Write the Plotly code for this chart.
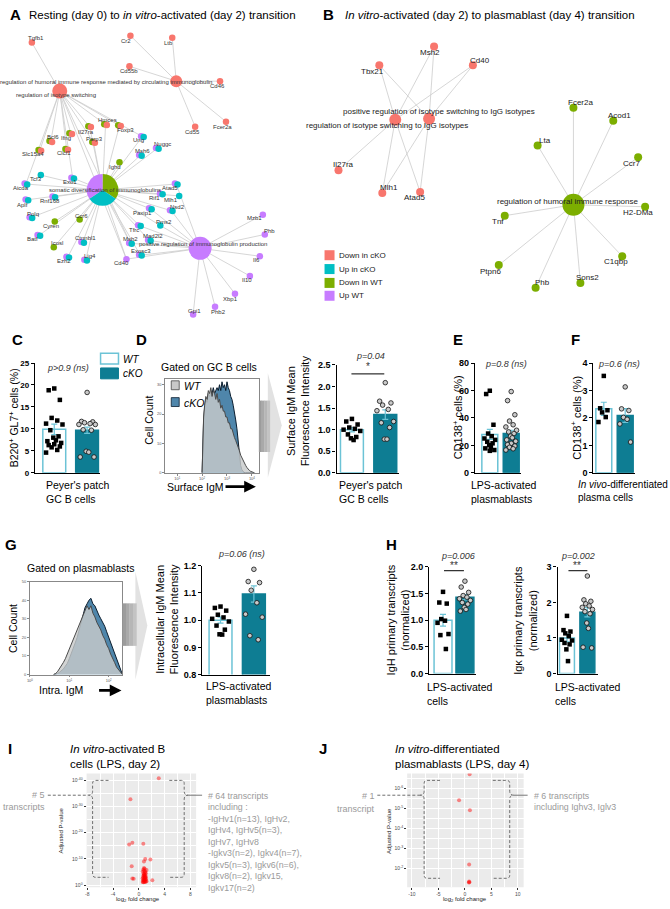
import plotly.graph_objects as go

W, H = 670, 909
FONT = "Liberation Sans, Arial, Helvetica, sans-serif"
RED, CYAN, GREEN, PURPLE = "#F8766D", "#00BFC4", "#7CAE00", "#C77CFF"
COL = {"R": RED, "C": CYAN, "G": GREEN, "P": PURPLE}
TEAL = "#0E7D93"
LIGHT = "#6CC3D6"
EDGE = "#cccccc"
GREYTXT = "#9a9a9a"

# ---------------- Panel A network (layout coordinates) ----------------
a_genes = ["Tgfb1", "Cr2", "Ltb", "Cd55b", "Cd46", "Cd55", "Fcer2a", "Hmces", "Il27ra", "Foxp3",
           "Ifng", "Parp3", "Bcl6", "Clcf1", "Slc15a4", "Ung", "Nuggc", "Msh6", "Ighd", "Tcf3",
           "Exo1", "Aicda", "Atad5", "Rif1", "Mlh1", "Aplf", "Rnf168", "Nsd2", "Paxip1", "Polq",
           "Cyren", "Ccr6", "Pms2", "Tfrc", "Batf", "Ctnnbl1", "Msh2", "Mad2l2", "Icosl", "Exosc3",
           "Ezh2", "Lig4", "Cd40", "Mzb1", "Phb", "Il6", "Il10", "Xbp1", "Phb2", "Gpi1"]
a_gene_x = [29, 128, 170, 127, 218, 193, 224, 103, 87, 117,
            68, 91, 48, 64, 37, 140, 155, 138, 117, 38,
            70, 23, 174, 159, 177, 24, 51, 169, 148, 28,
            52, 77, 158, 137, 36, 80, 128, 147, 51, 138,
            65, 83, 124, 261, 263, 258, 248, 233, 213, 191]
a_gene_y = [38, 31, 33, 62, 77, 123, 118, 121, 123, 122,
            130, 139, 138, 146, 147, 133, 145, 152, 159, 172,
            175, 181, 181, 191, 193, 197, 194, 208, 206, 215,
            219, 217, 223, 223, 233, 240, 241, 238, 245, 253,
            255, 258, 257, 212, 232, 254, 274, 292, 305, 313]
a_gene_groups = ["R", "R", "R", "R", "R", "R", "R", "GR", "GR", "GR",
                 "GR", "GR", "GR", "GR", "GR", "PC", "PC", "PC", "G", "C",
                 "PC", "PC", "PC", "PC", "C", "PC", "PC", "PC", "PC", "PC",
                 "G", "G", "C", "PC", "PC", "PC", "PC", "PC", "G", "PC",
                 "PC", "PC", "P", "P", "P", "P", "P", "P", "P", "P"]
a_label_x = [33, 124, 166, 127, 215, 190, 220, 105, 83, 123,
             63, 92, 50, 61, 30, 136, 160, 140, 113, 33,
             67, 18, 168, 152, 169, 20, 47, 175, 140, 30,
             48, 79, 162, 132, 30, 83, 128, 151, 54, 139,
             61, 87, 119, 253, 268, 255, 245, 229, 216, 192]
a_label_y = [33, 36, 38, 67, 82, 128, 123, 116, 128, 126,
             134, 135, 133, 150, 151, 137, 141, 148, 164, 176,
             179, 185, 185, 195, 197, 202, 198, 204, 210, 211,
             223, 213, 219, 227, 237, 236, 237, 234, 241, 249,
             259, 254, 261, 215, 229, 258, 278, 297, 310, 309]

a_hub_names = ["regulation of humoral immune response mediated by circulating immunoglobulin",
               "regulation of isotype switching",
               "somatic diversification of immunoglobulins",
               "positive regulation of immunoglobulin production"]
a_hub_x = [174, 57, 100, 198]
a_hub_y = [77, 87, 187, 246]
a_hub_size = [12, 15, 32, 23]
a_hub_label_x = [103, 53, 102, 201]
a_hub_label_y = [78, 91, 187, 242]
a_som_counts = [12, 11, 12]  # Down in WT, Up in cKO, Up WT

a_edges = [
    ["Cr2", "Ltb", "Cd55b", "Cd46", "Cd55", "Fcer2a"],
    ["Tgfb1", "Slc15a4", "Bcl6", "Ifng", "Clcf1", "Il27ra", "Parp3", "Hmces", "Foxp3",
     "Aicda", "Exo1", "Msh2", "Cd40", "Ung"],
    ["Hmces", "Parp3", "Il27ra", "Foxp3", "Ighd", "Ung", "Msh6", "Nuggc", "Tcf3", "Exo1",
     "Aicda", "Aplf", "Rnf168", "Polq", "Cyren", "Batf", "Icosl", "Ezh2", "Ctnnbl1", "Lig4",
     "Ccr6", "Cd40", "Exosc3", "Msh2", "Mad2l2", "Tfrc", "Pms2", "Paxip1", "Nsd2", "Rif1",
     "Mlh1", "Atad5"],
    ["Mzb1", "Phb", "Il6", "Il10", "Xbp1", "Phb2", "Gpi1", "Cd40", "Exosc3", "Mad2l2",
     "Msh2", "Tfrc", "Pms2", "Paxip1", "Nsd2", "Atad5"],
]

# ---------------- Panel B network ----------------
b_red_genes = ["Msh2", "Tbx21", "Cd40", "Il27ra", "Mlh1", "Atad5"]
b_red_x = [433, 378, 472, 337, 381, 419]
b_red_y = [42, 61, 61, 167, 190, 189]
b_red_lx = [429, 371, 479, 342, 388, 413]
b_red_ly = [48, 67, 56, 161, 185, 195]
b_red_hubs = ["positive regulation of isotype switching to IgG isotypes",
              "regulation of isotype switching to IgG isotypes"]
b_red_hub_x = [428, 394]
b_red_hub_y = [115, 116]
b_red_hub_lx = [438, 386]
b_red_hub_ly = [108, 122]

b_green_genes = ["Fcer2a", "Acod1", "Lta", "Ccr7", "H2-DMa", "Tnf", "C1qbp", "Ptpn6", "Sons2", "Phb"]
b_green_x = [573, 613, 537, 638, 645, 504, 622, 498, 580, 535]
b_green_y = [104, 117, 142, 154, 204, 213, 254, 263, 281, 286]
b_green_lx = [580, 619, 544, 631, 638, 497, 616, 490, 587, 542]
b_green_ly = [99, 112, 137, 160, 210, 219, 259, 269, 276, 281]
b_green_hub = "regulation of humoral immune response"
b_green_hub_xy = (573, 202)

legend_labels = ["Down in cKO", "Up in cKO", "Down in WT", "Up WT"]

# ---------------- Bar chart data ----------------
c_means, c_sems = [9.9, 9.7], [1.2, 0.7]
c_wt = [19.2, 18.8, 16.6, 12.5, 11.9, 11.2, 11.0, 9.7, 8.3, 8.0, 7.4, 7.2, 6.8, 6.5, 6.3, 6.0, 5.8, 5.2, 4.6]
c_ko = [18.3, 11.7, 11.6, 11.4, 11.2, 11.0, 11.0, 9.8, 9.7, 4.9, 4.7, 3.6, 3.6]

d_means, d_sems = [1.0, 1.35], [0.05, 0.11]
d_wt = [1.25, 1.19, 1.12, 1.05, 1.02, 1.0, 0.97, 0.89, 0.83, 0.80, 0.76]
d_ko = [2.09, 1.66, 1.62, 1.57, 1.47, 1.44, 1.19, 1.16, 1.05, 0.78, 0.78]

e_means, e_sems = [28.0, 28.6], [3.7, 2.4]
e_wt = [59.8, 57.4, 35.0, 28.6, 26.7, 25.0, 24.0, 22.6, 21.5, 20.2, 19.0, 17.8, 16.6, 16.0]
e_ko = [59.2, 52.6, 42.3, 37.7, 35.0, 33.4, 31.0, 29.8, 28.6, 26.7, 25.5, 24.0, 23.0, 21.5,
        20.5, 19.5, 18.6, 17.5, 16.6]

f_means, f_sems = [2.33, 2.09], [0.24, 0.25]
f_wt = [3.53, 2.35, 2.28, 2.20, 2.03, 1.85]
f_ko = [3.13, 2.33, 2.27, 2.02, 1.95, 1.78, 1.12]

g_means, g_sems = [1.0, 1.096], [0.011, 0.03]
g_wt = [1.05, 1.045, 1.035, 1.02, 1.01, 1.005, 0.995, 0.98, 0.965, 0.948, 0.947]
g_ko = [1.187, 1.142, 1.138, 1.11, 1.064, 1.022, 1.011, 0.943, 0.928]

h1_means, h1_sems = [1.0, 1.43], [0.11, 0.05]
h1_wt = [1.53, 1.33, 1.31, 1.02, 0.99, 0.95, 0.74, 0.72, 0.46]
h1_ko = [1.73, 1.62, 1.52, 1.46, 1.43, 1.40, 1.37, 1.33, 1.30, 1.24, 1.20, 1.17]

h2_means, h2_sems = [1.0, 1.72], [0.11, 0.13]
h2_wt = [1.62, 1.22, 1.18, 1.13, 1.05, 0.95, 0.93, 0.86, 0.82, 0.68, 0.35]
h2_ko = [2.74, 2.07, 2.03, 1.96, 1.90, 1.86, 1.80, 1.74, 1.68, 1.42, 1.27, 0.74, 0.72]

# ---------------- Flow histograms (log10 fluorescence, cell count) ----------------
d_logx = [2.00, 2.03, 2.06, 2.10, 2.15, 2.20, 2.25, 2.30, 2.35, 2.40, 2.45, 2.50, 2.55, 2.60, 2.65,
          2.70, 2.75, 2.80, 2.85, 2.90, 2.95, 3.00, 3.05, 3.10, 3.15, 3.20, 3.25, 3.30, 3.35, 3.40,
          3.45, 3.50, 3.55, 3.60, 3.65, 3.70, 3.75, 3.80, 3.85, 3.90, 3.95, 4.00, 4.05, 4.10]
d_wt_count = [0, 12, 19, 23, 26, 25, 28, 27, 29, 26, 28, 27, 25, 27, 24,
              25, 22, 23, 21, 21, 19, 19, 17, 17, 15, 15, 13, 12, 11, 10,
              8.5, 7.5, 6, 5, 4, 3.2, 2.5, 1.8, 1.2, 0.8, 0.5, 0.3, 0.1, 0]
d_ko_count = [0, 11, 18, 22, 25, 24, 27, 26, 28, 27, 29, 27, 28, 29, 28,
              30, 28, 31, 29, 30, 28, 31, 29, 28, 26, 25, 23, 21, 18, 15,
              11, 6, 2.5, 1, 0.3, 0, 0, 0, 0, 0, 0, 0, 0, 0]
g_logx = [0.60, 0.65, 0.70, 0.75, 0.80, 0.85, 0.90, 0.95, 1.00, 1.05, 1.10, 1.15, 1.20, 1.25,
          1.30, 1.35, 1.40, 1.45, 1.50, 1.55, 1.60, 1.65, 1.70, 1.75, 1.80, 1.85, 1.90, 1.95,
          2.00, 2.05, 2.10, 2.15, 2.20, 2.25, 2.30, 2.35]
g_wt_count = [0, 0.5, 1.5, 3, 4.5, 6.5, 8.5, 11, 13.5, 16, 19, 21, 24, 26, 29, 31, 34, 37,
              35, 37, 33, 31, 28, 26, 24, 21, 19, 16, 14, 11, 9, 6.5, 4, 2.5, 1, 0]
g_ko_count = [0, 0.2, 0.6, 1.2, 2, 3, 4.5, 6, 8.5, 11, 14, 17, 20, 24, 28, 32, 36, 38,
              40, 41, 38, 37, 34, 32, 30, 28, 26, 23, 20, 17, 14, 11, 8, 5, 2, 0]

# ---------------- Volcano plots (log2 FC, -log10 adjusted p) ----------------
i_fc = [3.1, -1.3, -1.5, -1.0, 0.7, 1.8, 1.0, 0.8, -1.1, -1.0, -0.8, 2.1,
        0.6, 0.7, 0.8, 0.9, 1.0, 1.1, 1.2, 0.65, 0.75, 0.85, 0.95, 1.05, 1.15, 0.6, 0.7, 0.8,
        0.9, 1.0, 1.1, 0.7, 0.8, 0.9, 1.0, 0.75, 0.85, 0.95, 0.6, 0.8, 1.0, 1.2, 0.7, 0.9,
        1.1, 0.8, 1.0]
i_nlp = [40.8, 32.8, 15.5, 16.2, 15.8, 9.8, 10.0, 9.0, 7.2, 2.6, 2.5, 1.9,
         1.2, 1.1, 1.3, 1.2, 1.4, 1.3, 1.5, 1.8, 2.0, 1.9, 2.2, 2.1, 2.4, 2.7, 2.9, 2.6,
         3.1, 2.8, 3.3, 3.6, 3.8, 3.5, 4.0, 4.4, 4.2, 4.8, 5.1, 5.5, 5.2, 5.8, 6.0, 6.3,
         4.6, 6.6, 3.0]
j_fc = [0.9, -1.1, 0.95, 0.8, 0.8, 0.85, 0.75]
j_nlp = [6.7, 5.4, 4.9, 2.2, 1.35, 1.32, 1.30]

i_left_text = ["# 5", "transcripts"]
i_right_text = ["# 64 transcripts", "including :", "-IgHv1(n=13), IgHv2,", "IgHv4, IgHv5(n=3),",
                "IgHv7, IgHv8", "-Igkv3(n=2), Igkv4(n=7),", "Igkv5(n=3), Igkv6(n=6),",
                "Igkv8(n=2), Igkv15,", "Igkv17(n=2)"]
j_left_text = ["# 1", "transcript"]
j_right_text = ["# 6 transcripts", "including Ighv3, Iglv3"]

# =====================================================================
fig = go.Figure()
annotations, shapes = [], []
layout_axes = {}
axis_ids = []


def txt(x, y, s, size=10, color="black", xanchor="center", yanchor="middle", angle=0,
        bold=False, italic=False, align="center"):
    annotations.append(dict(
        x=x, y=y, xref="x", yref="y", text=s, showarrow=False, textangle=angle,
        font=dict(family=FONT, size=size, color=color, weight="bold" if bold else "normal",
                  style="italic" if italic else "normal"),
        xanchor=xanchor, yanchor=yanchor, align=align, borderpad=0))


def new_axes(px0, px1, py0, py1, xr, yr, xkw, ykw):
    n = len(axis_ids) + 2
    axis_ids.append(n)
    layout_axes[f"xaxis{n}"] = dict(domain=[px0 / W, px1 / W], range=xr, anchor=f"y{n}", **xkw)
    layout_axes[f"yaxis{n}"] = dict(domain=[1 - py1 / H, 1 - py0 / H], range=yr, anchor=f"x{n}", **ykw)
    return f"x{n}", f"y{n}"


def canvas_scatter(**kw):
    fig.add_trace(go.Scatter(xaxis="x", yaxis="y", hoverinfo="skip", showlegend=False, **kw))


def edges(hx, hy, xs, ys):
    ex, ey = [], []
    for x, y in zip(xs, ys):
        ex += [hx, x, None]
        ey += [hy, y, None]
    canvas_scatter(x=ex, y=ey, mode="lines", line=dict(color=EDGE, width=0.8))


# ---------- Panel A ----------
idx = {g: i for i, g in enumerate(a_genes)}
for h, genes in enumerate(a_edges):
    edges(a_hub_x[h], a_hub_y[h], [a_gene_x[idx[g]] for g in genes], [a_gene_y[idx[g]] for g in genes])

under = {k: ([], []) for k in COL}
over = {k: ([], []) for k in COL}
for g, x, y, grp in zip(a_genes, a_gene_x, a_gene_y, a_gene_groups):
    if len(grp) == 1:
        under[grp][0].append(x); under[grp][1].append(y)
    else:
        under[grp[0]][0].append(x - 1.3); under[grp[0]][1].append(y - 0.4)
        over[grp[1]][0].append(x + 1.3); over[grp[1]][1].append(y + 0.4)
for layer in (under, over):
    for k, (xs, ys) in layer.items():
        if xs:
            canvas_scatter(x=xs, y=ys, mode="markers", marker=dict(color=COL[k], size=6.5, line=dict(width=0)))

for h in (0, 1):
    canvas_scatter(x=[a_hub_x[h]], y=[a_hub_y[h]], mode="markers",
                   marker=dict(color=RED, size=a_hub_size[h], line=dict(width=0)))
canvas_scatter(x=[a_hub_x[3]], y=[a_hub_y[3]], mode="markers",
               marker=dict(color=PURPLE, size=a_hub_size[3], line=dict(width=0)))
r = a_hub_size[2] / 2
cx, cy = a_hub_x[2], a_hub_y[2]
fig.add_trace(go.Pie(values=a_som_counts, marker=dict(colors=[GREEN, CYAN, PURPLE], line=dict(width=0)),
                     sort=False, direction="clockwise", rotation=0, textinfo="none", hoverinfo="skip",
                     showlegend=False,
                     domain=dict(x=[(cx - r) / W, (cx + r) / W], y=[1 - (cy + r) / H, 1 - (cy - r) / H])))

for g, lx, ly in zip(a_genes, a_label_x, a_label_y):
    txt(lx, ly, g, size=6, color="#333")
for name, lx, ly in zip(a_hub_names, a_hub_label_x, a_hub_label_y):
    txt(lx, ly, name, size=6, color="#333")

txt(13, 10, "A", size=15, bold=True)
txt(25, 10, "Resting (day 0) to <i>in vitro</i>-activated (day 2) transition", size=11.5, xanchor="left")

# ---------- Panel B ----------
for hx, hy in zip(b_red_hub_x, b_red_hub_y):
    sel = [i for i, g in enumerate(b_red_genes) if not (g == "Il27ra" and hx == b_red_hub_x[0])]
    edges(hx, hy, [b_red_x[i] for i in sel], [b_red_y[i] for i in sel])
edges(b_green_hub_xy[0], b_green_hub_xy[1], b_green_x, b_green_y)
canvas_scatter(x=b_red_x, y=b_red_y, mode="markers", marker=dict(color=RED, size=8, line=dict(width=0)))
canvas_scatter(x=b_red_hub_x, y=b_red_hub_y, mode="markers", marker=dict(color=RED, size=12, line=dict(width=0)))
canvas_scatter(x=b_green_x, y=b_green_y, mode="markers", marker=dict(color=GREEN, size=8, line=dict(width=0)))
canvas_scatter(x=[b_green_hub_xy[0]], y=[b_green_hub_xy[1]], mode="markers",
               marker=dict(color=GREEN, size=22, line=dict(width=0)))
for g, lx, ly in zip(b_red_genes + b_green_genes, b_red_lx + b_green_lx, b_red_ly + b_green_ly):
    txt(lx, ly, g, size=8, color="#222")
for name, lx, ly in zip(b_red_hubs, b_red_hub_lx, b_red_hub_ly):
    txt(lx, ly, name, size=8, color="#222")
txt(568, 199, b_green_hub, size=8, color="#222")

leg_y = [253, 267, 281, 294]
canvas_scatter(x=[328] * 4, y=leg_y, mode="markers",
               marker=dict(symbol="square", size=10, color=[RED, CYAN, GREEN, PURPLE], line=dict(width=0)))
for lab, y in zip(legend_labels, leg_y):
    txt(337, y, lab, size=8, color="#222", xanchor="left")

txt(327, 10, "B", size=15, bold=True)
txt(343, 10, "<i>In vitro</i>-activated (day 2) to plasmablast (day 4) transition", size=11.5, xanchor="left")

# ---------- Bar chart panels ----------
JIT = [0.0, -0.17, 0.17, -0.08, 0.09, -0.25, 0.25, -0.12, 0.13, -0.03, 0.05, -0.21, 0.21]


def jitter(vals, center):
    order = sorted(range(len(vals)), key=lambda i: -vals[i])
    xs = [0.0] * len(vals)
    for rank, i in enumerate(order):
        xs[i] = center + JIT[rank % len(JIT)]
    return xs


def bar_panel(xa, cw, ck, bw, xend, ytop, ybot, yr, ytv, ytt, means, sems, wt, ko, tsize=9):
    u = ck - cw
    xr = [-(cw - xa) / u, 1 + (xend - ck) / u]
    xkw = dict(showline=True, linecolor="black", linewidth=1.2, showticklabels=False, ticks="",
               showgrid=False, zeroline=False)
    ykw = dict(showline=True, linecolor="black", linewidth=1.2, ticks="outside", ticklen=3, tickwidth=1.2,
               tickcolor="black", tickmode="array", tickvals=ytv, ticktext=ytt,
               tickfont=dict(family=FONT, size=tsize, color="black", weight="bold"),
               showgrid=False, zeroline=False)
    xn, yn = new_axes(xa, xend, ytop, ybot, xr, yr, xkw, ykw)
    err = dict(type="data", visible=True, color=LIGHT, thickness=1.2, width=3)
    fig.add_trace(go.Bar(x=[0], y=[means[0]], width=bw / u, xaxis=xn, yaxis=yn, showlegend=False,
                         marker=dict(color="white", line=dict(color=LIGHT, width=1.5)),
                         error_y=dict(array=[sems[0]], **err), hoverinfo="skip"))
    fig.add_trace(go.Bar(x=[1], y=[means[1]], width=bw / u, xaxis=xn, yaxis=yn, showlegend=False,
                         marker=dict(color=TEAL, line=dict(color=TEAL, width=1.5)),
                         error_y=dict(array=[sems[1]], **err), hoverinfo="skip"))
    fig.add_trace(go.Scatter(x=jitter(wt, 0), y=wt, xaxis=xn, yaxis=yn, mode="markers", showlegend=False,
                             marker=dict(symbol="square", size=4.5, color="black", line=dict(width=0)),
                             hoverinfo="skip", cliponaxis=False))
    fig.add_trace(go.Scatter(x=jitter(ko, 1), y=ko, xaxis=xn, yaxis=yn, mode="markers", showlegend=False,
                             marker=dict(symbol="circle", size=4.6, color="#c9c9c9",
                                         line=dict(color="#111", width=0.8)),
                             hoverinfo="skip", cliponaxis=False))


bar_panel(32, 51.5, 84.5, 23, 97, 362, 473, [0, 25], [0, 5, 10, 15, 20, 25],
          ["0", "5", "10", "15", "20", "25"], c_means, c_sems, c_wt, c_ko, tsize=8)
bar_panel(335, 350.5, 384, 23, 398, 364, 473, [0, 2.5], [0, 0.5, 1.0, 1.5, 2.0, 2.5],
          ["0.0", "0.5", "1.0", "1.5", "2.0", "2.5"], d_means, d_sems, d_wt, d_ko)
bar_panel(474, 489, 510.5, 16, 520, 362, 473, [0, 80], [0, 20, 40, 60, 80],
          ["0", "20", "40", "60", "80"], e_means, e_sems, e_wt, e_ko)
bar_panel(593, 603.5, 625, 16, 635, 362, 473, [0, 4], [0, 1, 2, 3, 4],
          ["0", "1", "2", "3", "4"], f_means, f_sems, f_wt, f_ko)
bar_panel(200, 218.5, 252, 23, 268, 567, 677, [0.8, 1.2], [0.8, 0.9, 1.0, 1.1, 1.2],
          ["0.8", "0.9", "1.0", "1.1", "1.2"], g_means, g_sems, g_wt, g_ko)
bar_panel(428, 442, 464, 18, 475, 568, 676, [0, 2], [0, 0.5, 1.0, 1.5, 2.0],
          ["0.0", "0.5", "1.0", "1.5", "2.0"], h1_means, h1_sems, h1_wt, h1_ko)
bar_panel(557, 566.5, 587, 15, 598, 568, 676, [0, 3], [0, 1, 2, 3],
          ["0", "1", "2", "3"], h2_means, h2_sems, h2_wt, h2_ko)


# ---------- Histograms ----------
def hist_panel(x0, x1, y0, y1, xr, yr, xtv, xtt, ytv, logx, wt, ko):
    common = dict(showline=True, mirror=True, linecolor="#888", linewidth=0.8, ticks="outside", ticklen=2,
                  tickcolor="#888", tickfont=dict(family=FONT, size=4, color="#555"), showgrid=False,
                  zeroline=False, tickmode="array")
    xn, yn = new_axes(x0, x1, y0, y1, xr, yr, dict(tickvals=xtv, ticktext=xtt, **common),
                      dict(tickvals=ytv, ticktext=[str(v) for v in ytv], **common))
    fig.add_trace(go.Scatter(x=logx, y=ko, xaxis=xn, yaxis=yn, mode="lines", fill="tozeroy",
                             fillcolor="#4f86ab", line=dict(color="#0b1d2e", width=1), showlegend=False,
                             hoverinfo="skip"))
    fig.add_trace(go.Scatter(x=logx, y=wt, xaxis=xn, yaxis=yn, mode="lines", fill="tozeroy",
                             fillcolor="rgba(200,202,202,0.82)", line=dict(color="#4a4a4a", width=1),
                             showlegend=False, hoverinfo="skip"))


hist_panel(163, 257, 378, 473, [0.52, 4.28], [0, 32], [1, 2, 3, 4],
           ["10<sup>1</sup>", "10<sup>2</sup>", "10<sup>3</sup>", "10<sup>4</sup>"], [0, 10, 20, 30],
           d_logx, d_wt_count, d_ko_count)
hist_panel(27, 120, 583, 677, [0, 2.35], [0, 50], [0, 1, 2],
           ["10<sup>0</sup>", "10<sup>1</sup>", "10<sup>2</sup>"], [0, 10, 20, 30, 40, 50],
           g_logx, g_wt_count, g_ko_count)


# ---------- Volcano plots ----------
def volcano(x0, x1, y0, y1, xr, yr, xtv, xminor, ytv, ytt, yminor, fc, nlp):
    common = dict(showline=False, showgrid=True, gridcolor="white", gridwidth=0.8, zeroline=False,
                  ticks="outside", ticklen=2, tickcolor="#333", tickwidth=0.6,
                  tickfont=dict(family=FONT, size=5, color="#4d4d4d"), tickmode="array")
    xn, yn = new_axes(x0, x1, y0, y1, xr, yr,
                      dict(tickvals=xtv, ticktext=[str(v) for v in xtv],
                           minor=dict(tickmode="array", tickvals=xminor, showgrid=True, gridcolor="white",
                                      gridwidth=0.4, ticks=""), **common),
                      dict(tickvals=ytv, ticktext=ytt,
                           minor=dict(tickmode="array", tickvals=yminor, showgrid=True, gridcolor="white",
                                      gridwidth=0.4, ticks=""), **common))
    shapes.append(dict(type="rect", xref=f"{xn} domain", yref=f"{yn} domain", x0=0, x1=1, y0=0, y1=1,
                       fillcolor="#EBEBEB", line=dict(width=0), layer="below"))
    fig.add_trace(go.Scatter(x=fc, y=nlp, xaxis=xn, yaxis=yn, mode="markers", showlegend=False,
                             marker=dict(color="rgba(255,0,0,0.45)", size=4, line=dict(width=0)),
                             hoverinfo="skip"))


volcano(84, 194, 777, 892, [-8.1, 8.9], [-0.75, 42.6], [-8, -4, 0, 4, 8], [-6, -2, 2, 6],
        [0, 10, 20, 30, 40], ["10<sup>0</sup>", "10<sup>-10</sup>", "10<sup>-20</sup>", "10<sup>-30</sup>",
                              "10<sup>-40</sup>"], [5, 15, 25, 35], i_fc, i_nlp)
volcano(406, 523, 777, 892, [-10.9, 11.1], [1.07, 6.74], [-10, -5, 0, 5, 10], [-7.5, -2.5, 2.5, 7.5],
        [2, 3, 4, 5, 6], ["10<sup>-2</sup>", "10<sup>-3</sup>", "10<sup>-4</sup>", "10<sup>-5</sup>",
                          "10<sup>-6</sup>"], [2.5, 3.5, 4.5, 5.5, 6.5], j_fc, j_nlp)


# ---------- Shapes (decorations, pixel canvas) ----------
def cshape(**kw):
    shapes.append(dict(xref="x", yref="y", **kw))


def rect(x0, y0, x1, y1, fill, line=None, lw=0):
    cshape(type="rect", x0=x0, y0=y0, x1=x1, y1=y1, fillcolor=fill,
           line=dict(color=line or fill, width=lw))


# C legend
rect(98, 352, 116, 363, "white", LIGHT, 1.5)
rect(98, 367, 116, 378, TEAL, TEAL, 1)
# D histogram legend
rect(169, 380, 177, 389, "#c8c8c8", "#444", 0.8)
rect(169, 397, 177, 406, "#4f86ab", "#0b1d2e", 0.8)


# big gray chevron arrows
def chevron(rx0, ry0, rx1, ry1, tx, ty0, ty1, apex_x):
    cshape(type="path", path=f"M {tx} {ty0} L {apex_x} {(ty0 + ty1) / 2} L {tx} {ty1} Z",
           fillcolor="#e2e2e2", line=dict(width=0))
    for k, col in enumerate(["#9c9c9c", "#a9a9a9", "#b6b6b6", "#c3c3c3"]):
        w = (rx1 - rx0) / 4
        rect(rx0 + k * w, ry0, rx0 + (k + 1) * w + 0.3, ry1, col)


chevron(257, 400, 268, 452, 266, 372, 478, 280)
chevron(120, 605, 134, 648, 133, 573, 682, 145)

# significance brackets
cshape(type="line", x0=350, x1=383, y0=373, y1=373, line=dict(color="black", width=1))
cshape(type="line", x0=443, x1=463, y0=572, y1=572, line=dict(color="black", width=1))
cshape(type="line", x0=568, x1=587, y0=572, y1=572, line=dict(color="black", width=1))

# volcano brackets
DASH = dict(color="#6f6f6f", width=1, dash="3px,2px")
cshape(type="path", path="M 106 784 L 93 784 Q 90 784 90 787 L 90 795 Q 90 799 86 799 Q 90 799 90 803 "
                         "L 90 879 Q 90 882 93 882 L 106 882", line=DASH)
cshape(type="path", path="M 167 784 L 179 784 Q 182 784 182 787 L 182 795 Q 182 799 186 799 Q 182 799 182 803 "
                         "L 182 879 Q 182 882 179 882 L 167 882", line=DASH)
cshape(type="line", x0=45, x1=86, y0=799, y1=799, line=DASH)
cshape(type="line", x0=186, x1=200, y0=799, y1=799, line=dict(color="#777", width=1))
cshape(type="path", path="M 439 784 L 426 784 Q 423 784 423 787 L 423 795 Q 423 799 419 799 Q 423 799 423 803 "
                         "L 423 880 Q 423 883 426 883 L 439 883", line=DASH)
cshape(type="path", path="M 492 784 L 506 784 Q 509 784 509 787 L 509 795 Q 509 799 513 799 Q 509 799 509 803 "
                         "L 509 880 Q 509 883 506 883 L 492 883", line=DASH)
cshape(type="line", x0=376, x1=419, y0=799, y1=799, line=DASH)
cshape(type="line", x0=513, x1=527, y0=799, y1=799, line=dict(color="#777", width=1))

# ---------- Text annotations ----------
for lab, x, y in [("C", 15, 338), ("D", 139, 338), ("E", 457, 338), ("F", 575, 338),
                  ("G", 8, 545), ("H", 390, 545), ("I", 7, 752), ("J", 321, 752)]:
    txt(x, y, lab, size=15, bold=True)

# C
txt(10, 417, "B220<sup>+</sup> GL7<sup>+</sup> cells (%)", size=10.5, angle=-90)
txt(42, 478, "Peyer's patch<br>GC B cells", size=10.5, xanchor="left", yanchor="top", align="left")
txt(65, 367, "p&gt;0.9 (ns)", size=9, italic=True, color="#333")
txt(120, 358, "WT", size=10, italic=True, xanchor="left")
txt(120, 373, "cKO", size=10, italic=True, xanchor="left")
# D
txt(207, 366, "Gated on GC B cells", size=10.5)
txt(147, 420, "Cell Count", size=10.5, angle=-90)
txt(181, 385, "WT", size=10.5, italic=True, xanchor="left")
txt(181, 402, "cKO", size=10.5, italic=True, xanchor="left")
txt(164, 487, "Surface IgM", size=10.5, xanchor="left")
annotations.append(dict(x=254, y=487, ax=222, ay=487, xref="x", yref="y", axref="x", ayref="y", text="",
                        showarrow=True, arrowhead=2, arrowsize=0.9, arrowwidth=2.6, arrowcolor="black"))
txt(297, 410, "Surface IgM Mean<br>Fluorescence Intensity", size=11, angle=-90)
txt(336, 478, "Peyer's patch<br>GC B cells", size=10.5, xanchor="left", yanchor="top", align="left")
txt(369, 355, "p=0.04", size=9, italic=True, color="#333")
txt(367, 366, "*", size=10, color="#333")
# E / F
txt(457, 417, "CD138<sup>+</sup> cells (%)", size=11, angle=-90)
txt(469, 478, "LPS-activated<br>plasmablasts", size=10.5, xanchor="left", yanchor="top", align="left")
txt(505, 363, "p=0.8 (ns)", size=9, italic=True, color="#333")
txt(576, 417, "CD138<sup>+</sup> cells (%)", size=11, angle=-90)
txt(577, 478, "<i>In vivo</i>-differentiated<br>plasma cells", size=10, xanchor="left", yanchor="top",
    align="left")
txt(619, 363, "p=0.6 (ns)", size=9, italic=True, color="#333")
# G
txt(78, 569, "Gated on plasmablasts", size=10.5)
txt(10, 630, "Cell Count", size=10.5, angle=-90)
txt(35, 693, "Intra. IgM", size=10.5, xanchor="left")
annotations.append(dict(x=119, y=693, ax=95, ay=693, xref="x", yref="y", axref="x", ayref="y", text="",
                        showarrow=True, arrowhead=2, arrowsize=0.9, arrowwidth=2.6, arrowcolor="black"))
txt(165, 621, "Intracellular IgM Mean<br>Fluorescence Intensity", size=11, angle=-90)
txt(203, 681, "LPS-activated<br>plasmablasts", size=10.5, xanchor="left", yanchor="top", align="left")
txt(240, 555, "p=0.06 (ns)", size=9, italic=True, color="#333")
# H
txt(397, 622, "IgH primary transcripts<br>(normalized)", size=11, angle=-90)
txt(525, 622, "Igκ primary transcripts<br>(normalized)", size=11, angle=-90)
txt(425, 683, "LPS-activated<br>cells", size=10.5, xanchor="left", yanchor="top", align="left")
txt(553, 683, "LPS-activated<br>cells", size=10.5, xanchor="left", yanchor="top", align="left")
txt(457, 557, "p=0.006", size=9, italic=True, color="#333")
txt(453, 567, "**", size=10, color="#333")
txt(578, 557, "p=0.002", size=9, italic=True, color="#333")
txt(577, 567, "**", size=10, color="#333")
# I / J
txt(66, 760, "<i>In vitro</i>-activated B<br>cells (LPS, day 2)", size=11.5, xanchor="left", align="left")
txt(393, 760, "<i>In vitro</i>-differentiated<br>plasmablasts (LPS, day 4)", size=11.5, xanchor="left",
    align="left")
for x in (58, 388):
    txt(x, 835, "Adjusted P-value", size=6, angle=-90, color="#222")
for x in (136, 464):
    txt(x, 904, "log<sub>2</sub> fold change", size=6, color="#222")
txt(43, 799, i_left_text[0], size=9, color=GREYTXT, xanchor="right")
txt(43, 811, i_left_text[1], size=9, color=GREYTXT, xanchor="right")
txt(205, 794, "<br>".join(i_right_text), size=8.8, color=GREYTXT, xanchor="left", yanchor="top", align="left")
txt(375, 800, j_left_text[0], size=9, color=GREYTXT, xanchor="right")
txt(375, 813, j_left_text[1], size=9, color=GREYTXT, xanchor="right")
txt(532, 794, "<br>".join(j_right_text), size=8.8, color=GREYTXT, xanchor="left", yanchor="top", align="left")

fig.update_layout(
    width=W, height=H, margin=dict(l=0, r=0, t=0, b=0), autosize=False,
    paper_bgcolor="white", plot_bgcolor="rgba(0,0,0,0)", showlegend=False, barmode="overlay",
    xaxis=dict(domain=[0, 1], range=[0, W], visible=False, fixedrange=True),
    yaxis=dict(domain=[0, 1], range=[H, 0], visible=False, fixedrange=True),
    annotations=annotations, shapes=shapes, font=dict(family=FONT),
    **layout_axes,
)

fig.write_html("out.html", post_script="document.body.style.margin='0px';",
               config={"displayModeBar": False})
